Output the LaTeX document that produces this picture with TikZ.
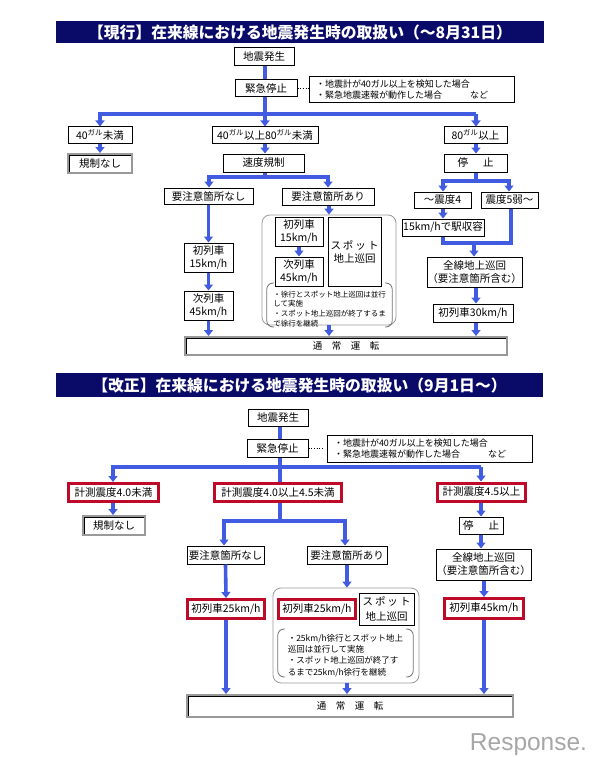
\documentclass[tikz,border=0pt]{standalone}
\usepackage{fontspec}
\setmainfont{Noto Sans CJK JP}
\newfontfamily\logofont{Liberation Sans}
\usetikzlibrary{arrows.meta}
\definecolor{titlenavy}{RGB}{10,10,105}
\definecolor{flowblue}{RGB}{66,92,225}
\definecolor{markred}{RGB}{190,10,40}
\lineskiplimit=-20pt
\begin{document}
\begin{tikzpicture}[x=1pt,y=-1pt,
	box/.style={draw, line width=1pt, fill=white, inner sep=0pt, align=center, font=\fontsize{10.5}{13}\selectfont},
	redbox/.style={box, draw=markred, line width=3pt},
	greybox/.style={box, draw=gray!80, line width=2pt, path picture={\draw[black, line width=4.4pt] (path picture bounding box.south west)--(path picture bounding box.north west)--(path picture bounding box.north east);}},
	notebox/.style={box, align=left, font=\fontsize{9}{11}\selectfont},
	groupbox/.style={draw=gray!80, line width=0.8pt, rounded corners=8pt, inner sep=0pt},
	brk/.style={draw=gray!90!black, line width=0.8pt, rounded corners=6pt},
	titlebar/.style={fill=titlenavy, text=white, inner sep=0pt, font=\fontsize{15.8}{17}\selectfont\bfseries},
	flow/.style={draw=flowblue, line width=3.6pt, -{Triangle[width=9pt,length=6pt]}},
	bar/.style={draw=flowblue, line width=3.6pt}]
	\useasboundingbox (0,0) rectangle (596,757);
	%---------------- GENKOU ----------------
	\node[titlebar, minimum width=488pt, minimum height=22pt] (title1) at (300,32) {【現行】在来線における地震発生時の取扱い（～8月31日）};
	\node[box, minimum width=60pt, minimum height=18pt] (hassei1) at (264,57) {地震発生};
	\node[box, minimum width=62pt, minimum height=17pt] (teishi1) at (266,88.5) {緊急停止};
	\node[notebox, text width=191pt, minimum height=26pt, inner xsep=7pt] (jouken1) at (411.5,90) {・地震計が40ガル以上を検知した場合\\・緊急地震速報が動作した場合\hspace{28pt}など};
	\node[box, minimum width=64pt, minimum height=16pt] (a40) at (100,135) {40\textsuperscript{ガル}未満};
	\node[box, minimum width=106pt, minimum height=16pt] (a4080) at (265,135) {40\textsuperscript{ガル}以上80\textsuperscript{ガル}未満};
	\node[box, minimum width=63pt, minimum height=16pt] (a80) at (475.5,135) {80\textsuperscript{ガル}以上};
	\node[greybox, minimum width=64pt, minimum height=19pt] (kisei1) at (100,163.5) {規制なし};
	\node[box, minimum width=81pt, minimum height=18pt] (sokudo) at (263.5,163) {速度規制};
	\node[box, minimum width=63pt, minimum height=18pt] (tomaru1) at (475.5,163) {停\hspace{15pt}止};
	\node[box, minimum width=89pt, minimum height=16pt] (nashi1) at (208.5,196) {要注意箇所なし};
	\node[box, minimum width=92pt, minimum height=17pt] (ari1) at (328,196.5) {要注意箇所あり};
	\node[box, minimum width=57pt, minimum height=16pt] (shindo4) at (442.5,200) {～震度4};
	\node[box, minimum width=57pt, minimum height=16pt] (shindo5) at (509.5,200) {震度5弱～};
	\node[box, minimum width=82pt, minimum height=17pt] (eki) at (443,227.5) {15km/hで駅収容};
	\node[box, minimum width=49pt, minimum height=29pt] (shoa1) at (208.5,257.5) {初列車\\15km/h};
	\node[box, minimum width=49pt, minimum height=29pt] (jia1) at (208.5,305.5) {次列車\\45km/h};
	\node[groupbox, minimum width=134pt, minimum height=110pt] (grp1) at (329,270) {};
	\node[box, minimum width=48pt, minimum height=29pt] (shob1) at (299,231.5) {初列車\\15km/h};
	\node[box, minimum width=48pt, minimum height=29pt] (jib1) at (299,271.5) {次列車\\45km/h};
	\node[box, minimum width=53pt, minimum height=69pt] (spot1) at (354.5,251.5) {ス\kern2pt ポ\kern2pt ッ\kern2pt ト\\地上巡回};
	\node[inner sep=0pt, minimum width=125pt, minimum height=39pt, align=left, font=\fontsize{7.5}{9.6}\selectfont] (memo1) at (329.5,305) {\rule{0pt}{14pt}・徐行とスポット地上巡回は並行\\して実施\\・スポット地上巡回が終了するま\\で徐行を継続};
	\node[box, minimum width=95pt, minimum height=30pt] (zensen1) at (474.5,272) {全線地上巡回\\（要注意箇所含む）};
	\node[box, minimum width=80pt, minimum height=18pt] (sho30) at (473,313) {初列車30km/h};
	\node[greybox, minimum width=322pt, minimum height=18pt, font=\fontsize{9.5}{12}\selectfont] (tsujo1) at (346,346) {通　常　運　転};
	\draw[brk] ([xshift=7pt]memo1.north west)--(memo1.north west)--(memo1.south west)--([xshift=7pt]memo1.south west);
	\draw[brk] ([xshift=-7pt]memo1.north east)--(memo1.north east)--(memo1.south east)--([xshift=-7pt]memo1.south east);
	% flow
	\coordinate (j1) at (265,114);
	\coordinate (j1l) at (100,114);
	\coordinate (j1r) at (476,114);
	\coordinate (j2) at (265,177);
	\coordinate (j2l) at (209,177);
	\coordinate (j2r) at (328,177);
	\coordinate (j3) at (476,181);
	\coordinate (j3l) at (443,181);
	\coordinate (j3r) at (509,181);
	\coordinate (j4l) at (443,243);
	\coordinate (j4r) at (511,243);
	\coordinate (j4) at (474,243);
	\draw[dotted, line width=0.7pt] (teishi1.east)--(jouken1.west |- teishi1.east);
	\draw[bar] (hassei1.south -| j1)--(teishi1.north -| j1);
	\draw[bar] (teishi1.south -| j1)--(j1);
	\draw[bar] ([xshift=-1.8pt]j1l)--(j1r);
	\draw[flow] (j1l)--(a40.north);
	\draw[flow] (j1)--(a4080.north);
	\draw[flow] (j1r)--(a80.north -| j1r);
	\draw[flow] (a40.south)--(kisei1.north);
	\draw[flow] (a4080.south)--(sokudo.north -| a4080);
	\draw[flow] (a80.south -| j1r)--(tomaru1.north -| j1r);
	\draw[bar] (sokudo.south -| j2)--(j2);
	\draw[bar] ([xshift=-1.8pt]j2l)--([xshift=1.8pt]j2r);
	\draw[flow] (j2l)--(nashi1.north -| j2l);
	\draw[flow] (j2r)--(ari1.north -| j2r);
	\draw[bar] (tomaru1.south -| j3)--(j3);
	\draw[bar] ([xshift=-1.8pt]j3l)--([xshift=1.8pt]j3r);
	\draw[flow] (j3l)--(shindo4.north -| j3l);
	\draw[flow] (j3r)--(shindo5.north -| j3r);
	\draw[flow] (shindo4.south -| j3l)--(eki.north -| j3l);
	\draw[bar] (shindo5.south -| j4r)--(j4r);
	\draw[bar] (eki.south -| j4l)--(j4l);
	\draw[bar] ([xshift=-1.8pt]j4l)--([xshift=1.8pt]j4r);
	\draw[flow] (j4)--(zensen1.north -| j4);
	\draw[flow] (zensen1.south -| j1r)--(sho30.north -| j1r);
	\draw[flow] (sho30.south -| j1r)--(tsujo1.north -| j1r);
	\draw[flow] (nashi1.south)--(shoa1.north);
	\draw[flow] (shoa1.south)--(jia1.north);
	\draw[flow] (jia1.south)--(tsujo1.north -| jia1);
	\draw[flow] (ari1.south -| grp1)--(grp1.north);
	\draw[flow] (shob1.south)--(jib1.north);
	\draw[flow] (grp1.south)--(tsujo1.north -| grp1);
	%---------------- KAISEI ----------------
	\node[titlebar, minimum width=487pt, minimum height=24pt] (title2) at (299.5,385) {【改正】在来線における地震発生時の取扱い（9月1日～）};
	\node[box, minimum width=60pt, minimum height=17pt] (hassei2) at (278,417.5) {地震発生};
	\node[box, minimum width=61pt, minimum height=18pt] (teishi2) at (277.5,448) {緊急停止};
	\node[notebox, text width=191pt, minimum height=27pt, inner xsep=7pt] (jouken2) at (429.5,448.5) {・地震計が40ガル以上を検知した場合\\・緊急地震速報が動作した場合\hspace{28pt}など};
	\node[redbox, minimum width=90pt, minimum height=18pt] (b40) at (113.5,492.5) {計測震度4.0未満};
	\node[redbox, minimum width=127pt, minimum height=18pt] (b45) at (278,492.5) {計測震度4.0以上4.5未満};
	\node[redbox, minimum width=88pt, minimum height=18pt] (b45up) at (481.5,492) {計測震度4.5以上};
	\node[greybox, minimum width=62pt, minimum height=19pt] (kisei2) at (114,525.5) {規制なし};
	\node[box, minimum width=44pt, minimum height=17pt] (tomaru2) at (481,525.5) {停\hspace{15pt}止};
	\node[box, minimum width=77pt, minimum height=18pt] (nashi2) at (225.5,555) {要注意箇所なし};
	\node[box, minimum width=80pt, minimum height=18pt] (ari2) at (347,555) {要注意箇所あり};
	\node[box, minimum width=95pt, minimum height=31pt] (zensen2) at (483.5,564.5) {全線地上巡回\\（要注意箇所含む）};
	\node[redbox, minimum width=77pt, minimum height=19pt] (shoa2) at (226,609) {初列車25km/h};
	\node[groupbox, minimum width=146pt, minimum height=95pt] (grp2) at (346,635.5) {};
	\node[redbox, minimum width=77pt, minimum height=19pt] (shob2) at (317,609) {初列車25km/h};
	\node[box, minimum width=55pt, minimum height=32pt, font=\fontsize{10.5}{15}\selectfont] (spot2) at (386.5,609) {ス\kern2pt ポ\kern2pt ッ\kern2pt ト\\地上巡回};
	\node[redbox, minimum width=79pt, minimum height=20pt] (sho45) at (484,608.5) {初列車45km/h};
	\node[inner sep=0pt, minimum width=135pt, minimum height=46pt, align=left, font=\fontsize{8.5}{11.3}\selectfont] (memo2) at (345.5,653) {\rule{0pt}{12pt}・25km/h徐行とスポット地上\\巡回は並行して実施\\・スポット地上巡回が終了す\\るまで25km/h徐行を継続};
	\node[greybox, minimum width=326pt, minimum height=22pt, font=\fontsize{9.5}{12}\selectfont] (tsujo2) at (350,706) {通　常　運　転};
	\draw[brk] ([xshift=7pt]memo2.north west)--(memo2.north west)--(memo2.south west)--([xshift=7pt]memo2.south west);
	\draw[brk] ([xshift=-7pt]memo2.north east)--(memo2.north east)--(memo2.south east)--([xshift=-7pt]memo2.south east);
	% flow
	\coordinate (k1) at (280,467);
	\coordinate (k1l) at (113,467);
	\coordinate (k1r) at (481,467);
	\coordinate (k2) at (280,521);
	\coordinate (k2l) at (224,521);
	\coordinate (k2r) at (345,521);
	\draw[dotted, line width=0.7pt] (teishi2.east)--([xshift=-4pt]jouken2.west |- teishi2.east);
	\draw[bar] (hassei2.south -| k1)--(teishi2.north -| k1);
	\draw[bar] (teishi2.south -| k1)--(b45.north -| k1);
	\draw[bar] ([xshift=-1.8pt]k1l)--(k1r);
	\draw[flow] (k1l)--(b40.north -| k1l);
	\draw[flow] (k1r)--(b45up.north -| k1r);
	\draw[flow] (b40.south -| k1l)--(kisei2.north -| k1l);
	\draw[flow] (b45up.south -| k1r)--(tomaru2.north -| k1r);
	\draw[flow] (tomaru2.south -| k1r)--(zensen2.north -| k1r);
	\draw[bar] (b45.south -| k2)--(k2);
	\draw[bar] ([xshift=-1.8pt]k2l)--([xshift=1.8pt]k2r);
	\draw[flow] (k2l)--(nashi2.north -| k2l);
	\draw[flow] (k2r)--(ari2.north -| k2r);
	\draw[flow] (nashi2.south)--(shoa2.north);
	\draw[flow] (shoa2.south)--(tsujo2.north -| shoa2);
	\draw[flow] (ari2.south)--(grp2.north -| ari2);
	\draw[flow] (grp2.south -| ari2)--(tsujo2.north -| ari2);
	\draw[flow] (zensen2.south -| sho45)--(sho45.north);
	\draw[flow] (sho45.south)--(tsujo2.north -| sho45);
	%---------------- LOGO ----------------
	\node[inner sep=0pt, text=gray!70, font=\fontsize{24.5}{26}\logofont] (logo) at (528.5,745) {Response.};
\end{tikzpicture}
\end{document}
